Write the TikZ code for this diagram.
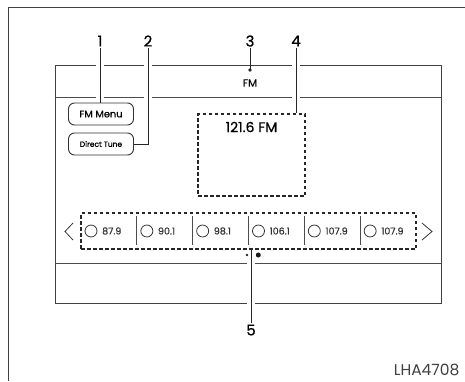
\documentclass[tikz,border=0pt]{standalone}
\usepackage{fontspec}
\setsansfont{Poppins}[FakeBold=0.6]
\newfontfamily\lightsans{Poppins}
\usetikzlibrary{positioning}

\begin{document}
\begin{tikzpicture}[
  x=1pt, y=-1pt,
  font=\sffamily,
  frame/.style={line width=1pt, draw=black!75},
  rule/.style={line width=0.9pt, draw=black!70},
  leader/.style={line width=0.9pt, draw=black!85},
  knockout/.style={line width=8pt, draw=white},
  softkey/.style={draw=black!80, line width=0.9pt, rounded corners=6pt,
                  minimum width=65pt, minimum height=22pt, inner sep=0pt},
  focus/.style={draw=black!85, line width=1.6pt, dash pattern=on 3.5pt off 2.5pt,
                inner sep=0pt},
  callout/.style={font=\sffamily\fontsize{15}{16}\selectfont, inner sep=1pt},
  freq/.style={font=\sffamily\fontsize{9.5}{10}\selectfont, text=black!80,
               anchor=west, inner sep=0pt},
]
  \useasboundingbox (0,0) rectangle (465,381);

  % outer frame
  \draw[frame] (465,7) -- (8,7) -- (8,381);

  % screen
  \draw[frame] (55,65) rectangle (441,303);
  \draw[rule] (55,97) -- (441,97);
  \draw[rule] (55,263) -- (441,263);

  % gaps where the leaders cross the screen lines
  \draw[knockout] (100,59) -- (100,101);
  \draw[knockout] (148,59) -- (148,101);
  \draw[knockout] (296,59) -- (296,101);
  \draw[knockout] (251,259) -- (251,308);

  % soft keys
  \node[softkey, font=\sffamily\fontsize{9.8}{10}\selectfont] (fmmenu) at (101,114) {FM Menu};
  \node[softkey, font=\sffamily\fontsize{7.5}{8}\selectfont] (direct) at (101,144) {Direct Tune};

  % band and station
  \coordinate (bandpt) at (250,70);
  \fill[black!85] (bandpt) circle (1.8);
  \node[font=\sffamily\fontsize{10.5}{11}\selectfont] (band) at (250,83) {FM};
  \node[focus, minimum width=107pt, minimum height=82pt] (station) at (251.5,155) {};
  \node[font=\sffamily\fontsize{14}{15}\selectfont] (freqtxt) at (251.5,127) {121.6 FM};

  % presets
  \node[focus, minimum width=335pt, minimum height=36pt] (row) at (248.5,231) {};
  \foreach \f [count=\i] in {87.9,90.1,98.1,106.1,107.9,107.9} {
    \pgfmathsetmacro{\xa}{81+(\i-1)*55.83}
    \ifnum\i>1
      \draw[rule, line width=0.8pt] (\xa,216) -- (\xa,245);
    \fi
    \draw[black!80, line width=0.8pt] (\xa+10,231) circle (6);
    \node[freq] (p\i) at (\xa+21,231) {\f};
  }
  \draw[black!80, line width=0.8pt] (73,223) -- (65,231.5) -- (73,240);
  \draw[black!80, line width=0.8pt] (422,223) -- (432,231.5) -- (422,240);

  % page dots
  \fill[black!85] (247,255) circle (1.3);
  \fill[black!90] (258.3,255) circle (2.5);

  % callouts
  \node[callout] (n1) at (100,41) {1};
  \node[callout] (n2) at (148,41) {2};
  \node[callout] (n3) at (250,41) {3};
  \node[callout] (n4) at (296,41) {4};
  \node[callout] (n5) at (251,330) {5};
  \draw[leader] (n1.south) -- (n1.south |- fmmenu.north);
  \draw[leader] (n2.south) |- (direct.east);
  \draw[leader] (n3.south) -- (bandpt);
  \draw[leader] (n4.south) -- (n4.south |- station.north);
  \draw[leader] (n5.north) -- (n5.north |- row.south);

  \node[font=\lightsans\fontsize{15.5}{16}\selectfont\color{black!75}, anchor=east] (code) at (463,370) {LHA4708};
\end{tikzpicture}
\end{document}
